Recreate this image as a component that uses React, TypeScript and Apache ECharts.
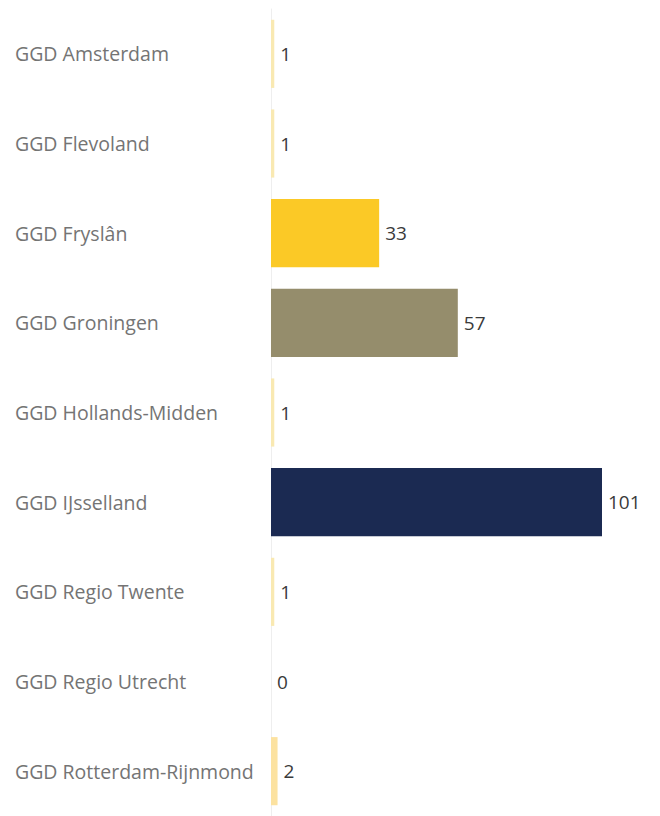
import React, { useEffect, useRef } from "react";
import * as echarts from "echarts";

const categories = [
  "GGD Amsterdam",
  "GGD Flevoland",
  "GGD Fryslân",
  "GGD Groningen",
  "GGD Hollands-Midden",
  "GGD IJsselland",
  "GGD Regio Twente",
  "GGD Regio Utrecht",
  "GGD Rotterdam-Rijnmond",
];
const values = [1, 1, 33, 57, 1, 101, 1, 0, 2];
const barColors = [
  "#f9e9b2",
  "#f9e9b2",
  "#fbc926",
  "#958d6c",
  "#f9e9b2",
  "#1b2a52",
  "#f9e9b2",
  "#f9e9b2",
  "#fce2a0",
];

export default function App() {
  const ref = useRef<HTMLDivElement>(null);
  useEffect(() => {
    if (!ref.current) return;
    const chart = echarts.init(ref.current, null, { renderer: "svg" });
    chart.setOption({
      animation: false,
      backgroundColor: "#ffffff",
      grid: { left: 271, right: 58, top: 9, bottom: 0, containLabel: false },
      xAxis: {
        type: "value",
        min: 0,
        max: 101,
        show: false,
      },
      yAxis: {
        type: "category",
        data: categories,
        inverse: true,
        axisLine: { show: true, lineStyle: { color: "#eeeeee", width: 1 } },
        axisTick: { show: false },
        splitLine: { show: false },
        axisLabel: {
          align: "left",
          margin: 256,
          color: "#747474",
          fontSize: 19.5,
          fontFamily: "Open Sans",
        },
      },
      series: [
        {
          type: "bar",
          data: values.map((v, i) => ({ value: v, itemStyle: { color: barColors[i] } })),
          barCategoryGap: "24%",
          label: {
            show: true,
            position: "right",
            distance: 6,
            color: "#3a3a3a",
            fontSize: 19,
            fontFamily: "Open Sans",
          },
        },
      ],
    });
    return () => chart.dispose();
  }, []);
  return (
    <div
      ref={ref}
      style={{ position: "fixed", left: 0, top: 0, width: 660, height: 816 }}
    />
  );
}
